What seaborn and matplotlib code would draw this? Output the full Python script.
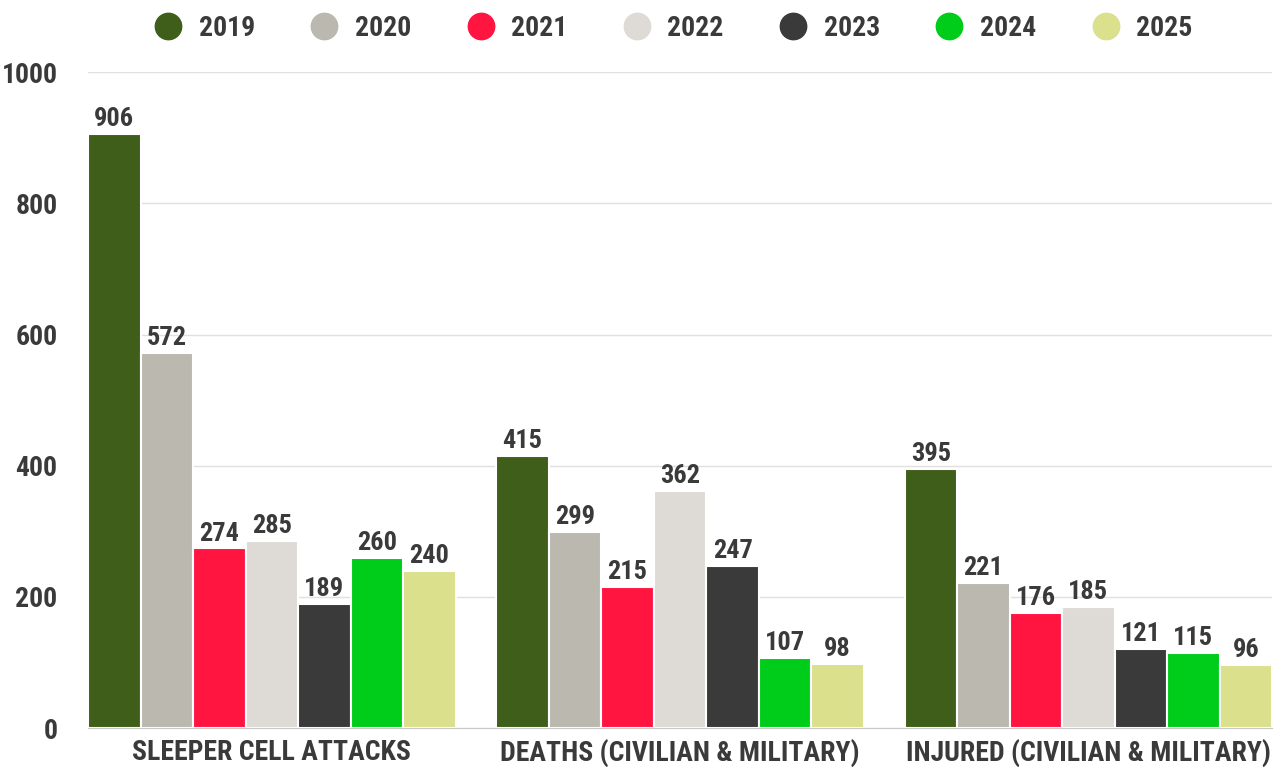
import pandas as pd
import matplotlib.pyplot as plt
import seaborn as sns
from matplotlib.lines import Line2D

# data
categories = ["SLEEPER CELL ATTACKS", "DEATHS (CIVILIAN & MILITARY)", "INJURED (CIVILIAN & MILITARY)"]
years = ["2019", "2020", "2021", "2022", "2023", "2024", "2025"]
vals_2019 = [906, 415, 395]
vals_2020 = [572, 299, 221]
vals_2021 = [274, 215, 176]
vals_2022 = [285, 362, 185]
vals_2023 = [189, 247, 121]
vals_2024 = [260, 107, 115]
vals_2025 = [240, 98, 96]
colors = ["#3f5e1a", "#bbb8b0", "#ff1540", "#dedbd6", "#3a3a3a", "#00cc1a", "#dbe08d"]

series = [vals_2019, vals_2020, vals_2021, vals_2022, vals_2023, vals_2024, vals_2025]
rows = []
for yr, vals in zip(years, series):
    for cat, v in zip(categories, vals):
        rows.append({"category": cat, "year": yr, "value": v})
df = pd.DataFrame(rows)

sns.set_style("white")
plt.rcParams["font.family"] = ["Roboto Condensed", "Barlow Condensed", "Roboto", "DejaVu Sans"]
text_col = "#3a3a3a"

fig = plt.figure(figsize=(12.85, 7.67), dpi=100)
ax = fig.add_axes([0.0685, 0.0508, 0.9215, 0.855])

sns.barplot(data=df, x="category", y="value", hue="year", palette=colors,
            width=0.9, edgecolor="white", linewidth=1.5, saturation=1,
            ax=ax, legend=False)

for cont in ax.containers:
    ax.bar_label(cont, padding=2, fontsize=19, fontweight="bold", color=text_col)

ax.set_ylim(0, 1000)
ax.set_xlim(-0.45, 2.45)
ax.set_yticks([0, 200, 400, 600, 800, 1000])
ax.yaxis.grid(True, color="#e0e0e0", linewidth=1)
ax.set_axisbelow(True)
for s in ["top", "right", "left"]:
    ax.spines[s].set_visible(False)
ax.spines["bottom"].set_color("#c8c8c8")
ax.tick_params(axis="y", length=0, pad=22, labelsize=20, labelcolor=text_col)
ax.tick_params(axis="x", length=0, pad=8, labelsize=20, labelcolor=text_col)
for lbl in ax.get_xticklabels() + ax.get_yticklabels():
    lbl.set_fontweight("bold")
ax.set_xlabel("")
ax.set_ylabel("")

handles = [Line2D([], [], marker="o", linestyle="", markersize=19, color=c) for c in colors]
fig.legend(handles, years, loc="upper center", bbox_to_anchor=(0.524, 1.013), ncol=7,
           frameon=False, prop={"size": 20, "weight": "bold"}, labelcolor=text_col,
           columnspacing=2.0, handlelength=1.0, handletextpad=0.6)

fig.savefig("out.png", dpi=100)
